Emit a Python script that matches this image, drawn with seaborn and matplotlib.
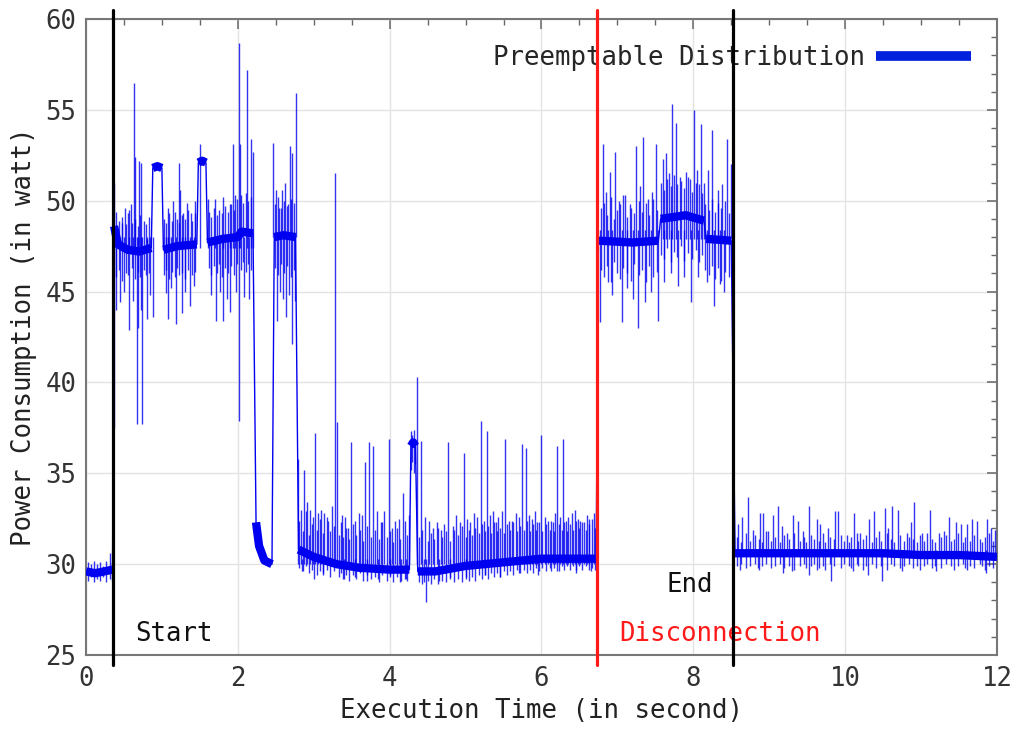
import numpy as np
import pandas as pd
import matplotlib
matplotlib.use('Agg')
import matplotlib.pyplot as plt
import seaborn as sns
from matplotlib.lines import Line2D
from matplotlib.ticker import MultipleLocator

# ---- data ----
# slow baseline of the power trace, split into plateaus (seg id)
base_t = [0.0, 0.12, 0.24, 0.35,
          0.37, 0.42, 0.55, 0.70, 0.86,
          0.88, 0.94, 1.00,
          1.02, 1.20, 1.46,
          1.48, 1.53, 1.58,
          1.60, 1.80, 2.00, 2.05, 2.20,
          2.24, 2.28, 2.35, 2.45,
          2.48, 2.60, 2.76,
          2.80, 3.00, 3.30, 3.60, 4.00, 4.26,
          4.28, 4.31, 4.34,
          4.37, 4.60, 5.00, 5.50, 6.00, 6.72,
          6.75, 7.20, 7.54,
          7.57, 7.90, 8.14,
          8.17, 8.50,
          8.55, 9.00, 9.50, 10.00, 10.50, 11.00, 11.50, 12.00]
base_v = [29.6, 29.5, 29.6, 29.7,
          48.6, 47.6, 47.3, 47.2, 47.4,
          51.8, 51.9, 51.8,
          47.3, 47.5, 47.6,
          52.1, 52.2, 52.1,
          47.7, 47.9, 48.0, 48.3, 48.2,
          32.3, 31.0, 30.2, 30.0,
          48.0, 48.1, 48.0,
          30.8, 30.4, 30.0, 29.8, 29.7, 29.7,
          36.5, 36.7, 36.5,
          29.6, 29.6, 29.9, 30.1, 30.3, 30.3,
          47.8, 47.7, 47.8,
          49.0, 49.2, 48.9,
          47.9, 47.8,
          30.6, 30.6, 30.6, 30.6, 30.6, 30.5, 30.5, 30.4]
base_seg = [0, 0, 0, 0,
            1, 1, 1, 1, 1,
            2, 2, 2,
            3, 3, 3,
            4, 4, 4,
            5, 5, 5, 5, 5,
            6, 6, 6, 6,
            7, 7, 7,
            8, 8, 8, 8, 8, 8,
            9, 9, 9,
            10, 10, 10, 10, 10, 10,
            11, 11, 11,
            12, 12, 12,
            13, 13,
            14, 14, 14, 14, 14, 14, 14, 14]

# big spikes: (time, peak) going up from the plateau, (time, trough) going down
a_up_t = [0.37, 0.47, 0.52, 0.57, 0.59, 0.63, 0.65, 0.70, 0.73, 0.80, 1.08, 1.14, 1.22, 1.24,
          1.28, 1.33, 1.38, 1.44, 1.50, 1.61, 1.70, 1.80, 1.90, 1.93, 1.96, 2.01, 2.03, 2.12,
          2.17, 2.20]
a_up_v = [51.0, 48.8, 49.6, 49.5, 49.8, 56.5, 52.4, 52.2, 52.1, 47.9, 49.6, 50.0, 52.1, 50.6,
          49.3, 49.9, 49.3, 50.0, 53.1, 50.1, 50.1, 50.2, 49.8, 53.1, 50.3, 58.7, 53.1, 57.2,
          53.4, 52.7]
a_dn_t = [0.37, 0.40, 0.45, 0.50, 0.57, 0.62, 0.67, 0.69, 0.72, 0.74, 0.80, 0.84, 0.88, 1.05,
          1.08, 1.12, 1.18, 1.26, 1.30, 1.37, 1.42, 1.65, 1.71, 1.76, 1.80, 1.86, 1.90, 1.98,
          2.01, 2.08, 2.15]
a_dn_v = [37.5, 44.0, 44.4, 45.0, 42.9, 44.5, 37.7, 43.0, 44.0, 37.7, 43.5, 44.8, 43.6, 44.9,
          43.5, 45.2, 43.2, 43.8, 45.0, 44.2, 45.3, 44.8, 43.4, 45.0, 43.4, 44.6, 43.9, 45.0,
          37.9, 44.7, 44.6]

b_up_t = [2.47, 2.50, 2.54, 2.58, 2.62, 2.66, 2.69, 2.72, 2.77]
b_up_v = [53.2, 50.6, 49.6, 50.6, 51.0, 49.8, 53.0, 52.6, 55.9]
b_dn_t = [2.51, 2.55, 2.60, 2.64, 2.68, 2.72, 2.75]
b_dn_v = [43.4, 45.0, 44.6, 43.6, 44.8, 42.1, 44.5]

c_up_t = [2.79, 2.83, 2.87, 2.91, 2.95, 2.99, 3.02, 3.06, 3.09, 3.14,
          3.19, 3.24, 3.28, 3.30, 3.37, 3.41, 3.45, 3.49, 3.54, 3.59,
          3.63, 3.67, 3.73, 3.78, 3.83, 3.88, 3.93, 3.99, 4.03, 4.07,
          4.12, 4.18, 4.25, 4.36, 4.41, 4.47, 4.52, 4.57, 4.62, 4.67,
          4.71, 4.77, 4.83, 4.88, 4.93, 4.98, 5.02, 5.06, 5.11, 5.15,
          5.20, 5.24, 5.28, 5.32, 5.36, 5.40, 5.43, 5.48, 5.52, 5.57,
          5.61, 5.66, 5.70, 5.75, 5.79, 5.83, 5.87, 5.91, 5.94, 5.99,
          6.04, 6.09, 6.15, 6.18, 6.21, 6.25, 6.28, 6.32, 6.35, 6.40,
          6.44, 6.48, 6.51, 6.56, 6.60, 6.63, 6.69]
c_up_v = [35.8, 33.0, 35.2, 33.4, 33.0, 32.6, 37.2, 32.8, 33.0, 32.8,
          32.4, 33.2, 51.5, 37.8, 32.7, 32.6, 32.0, 36.7, 32.4, 32.8,
          32.7, 35.6, 36.7, 36.5, 32.9, 32.3, 32.9, 36.9, 32.0, 32.4,
          32.5, 33.9, 32.7, 40.3, 36.8, 32.6, 32.4, 32.0, 32.3, 31.9,
          32.2, 36.7, 32.1, 32.7, 32.3, 36.1, 32.5, 32.3, 32.8, 32.6,
          37.9, 32.4, 37.3, 32.7, 32.9, 32.3, 32.6, 32.9, 36.9, 32.4,
          32.4, 32.8, 32.6, 36.6, 36.4, 32.7, 32.5, 32.9, 32.3, 37.1,
          32.6, 32.4, 32.3, 32.8, 36.5, 32.6, 36.9, 32.4, 32.6, 32.8,
          33.0, 32.5, 32.4, 32.3, 32.7, 32.5, 32.8]
c_dn_t = [2.85, 3.00, 3.12, 3.40, 3.55, 3.70, 3.85, 4.00, 4.15, 4.22, 4.45,
          4.48, 4.65, 4.80, 5.00, 5.25, 5.45, 5.70, 5.95, 6.20, 6.45, 6.65]
c_dn_v = [29.6, 29.2, 29.4, 29.2, 29.3, 29.1, 29.2, 29.4, 29.1, 29.2, 29.0,
          27.9, 29.1, 29.3, 29.2, 29.4, 29.3, 29.5, 29.4, 29.6, 29.5, 29.6]

d_up_t = [6.81, 6.85, 6.90, 6.97, 7.02, 7.10, 7.16, 7.25, 7.30, 7.34, 7.40, 7.45, 7.51, 7.60,
          7.64, 7.68, 7.72, 7.77, 7.83, 7.90, 7.95, 8.01, 8.05, 8.10, 8.14, 8.20, 8.25, 8.32,
          8.38, 8.45, 8.49]
d_up_v = [53.1, 50.5, 51.6, 52.7, 50.0, 50.3, 49.8, 53.0, 50.8, 53.5, 50.1, 50.5, 53.1, 52.3,
          52.6, 51.5, 55.3, 54.3, 51.3, 51.6, 51.2, 55.0, 51.7, 54.2, 51.0, 51.7, 53.9, 50.6,
          50.9, 53.4, 52.0]
d_dn_t = [6.77, 6.88, 6.93, 7.06, 7.12, 7.20, 7.27, 7.36, 7.44, 7.54, 7.62, 7.70, 7.80, 7.88,
          7.97, 8.06, 8.18, 8.27, 8.35, 8.41]
d_dn_v = [43.3, 45.5, 44.8, 43.3, 45.2, 44.6, 43.0, 44.4, 45.0, 43.4, 45.5, 46.0, 45.3, 45.8,
          44.4, 45.8, 45.5, 44.2, 45.4, 45.0]

e_up_t = [8.59, 8.64, 8.72, 8.79, 8.88, 8.92, 8.99, 9.05, 9.12, 9.17, 9.23, 9.31, 9.38, 9.44,
          9.52, 9.63, 9.67, 9.77, 9.87, 9.91, 10.02, 10.12, 10.20, 10.32, 10.38, 10.44, 10.52,
          10.57, 10.62, 10.69, 10.81, 10.87, 10.91, 11.01, 11.12, 11.23, 11.30, 11.37, 11.46,
          11.52, 11.61, 11.67, 11.74, 11.87, 11.92, 11.98]
e_up_v = [32.2, 32.6, 33.7, 31.9, 32.8, 32.8, 31.8, 32.7, 33.2, 32.1, 31.7, 32.7, 32.4, 31.8,
          33.2, 32.5, 32.2, 32.0, 32.9, 32.9, 31.6, 32.8, 31.7, 32.5, 32.9, 31.8, 33.1,
          32.0, 33.2, 33.0, 31.7, 32.3, 33.4, 31.7, 33.0, 31.7, 31.8, 32.6, 32.3,
          32.2, 32.2, 32.5, 32.4, 32.5, 32.0, 31.9]
e_dn_t = [8.62, 8.85, 9.18, 9.30, 9.52, 9.63, 9.82, 10.10, 10.30, 10.49, 10.75, 11.20, 11.60,
          11.85]
e_dn_v = [29.7, 29.8, 29.5, 29.6, 29.4, 29.7, 29.1, 29.6, 29.4, 29.1, 29.6, 29.6, 29.7, 29.5]

# levels the big spikes start from: floor for peaks, ceiling for troughs
a_floor, a_ceil = 47.4, 48.0
b_floor, b_ceil = 48.0, 48.2
c_floor, c_ceil = 30.0, 30.3
d_floor, d_ceil = 47.9, 48.4
e_floor, e_ceil = 30.5, 30.8

# small noise around the plateaus: (time, low, high) of the fuzz
f0_t = [0.03, 0.07, 0.11, 0.15, 0.19, 0.23, 0.27, 0.31, 0.34]
f0_lo = [29.1, 29.3, 29.0, 29.2, 29.1, 29.3, 29.0, 29.2, 29.1]
f0_hi = [30.1, 30.0, 30.2, 30.0, 30.1, 29.9, 30.2, 30.6, 30.1]

fa_t = [0.40, 0.44, 0.48, 0.53, 0.56, 0.61, 0.64, 0.68, 0.71, 0.76, 0.79, 0.83,
        1.03, 1.06, 1.10, 1.13, 1.17, 1.20, 1.23, 1.27, 1.31, 1.35, 1.40, 1.44,
        1.62, 1.65, 1.68, 1.72, 1.75, 1.79, 1.83, 1.87, 1.91, 1.95, 1.99, 2.04,
        2.07, 2.11, 2.14, 2.18,
        2.49, 2.53, 2.57, 2.61, 2.65, 2.70, 2.74]
fa_lo = [45.8, 46.2, 45.6, 46.0, 45.9, 46.3, 45.7, 46.1, 45.8, 46.2, 45.9, 46.0,
         45.9, 46.2, 45.7, 46.1, 45.8, 46.3, 45.9, 46.0, 45.7, 46.2, 45.9, 46.1,
         46.3, 45.9, 46.4, 46.0, 46.5, 45.8, 46.3, 46.0, 46.4, 45.9, 46.5, 46.2,
         46.6, 46.1, 46.5, 46.2,
         46.3, 45.9, 46.5, 46.0, 46.4, 45.8, 46.2]
fa_hi = [49.4, 48.9, 49.1, 48.7, 49.3, 48.8, 49.0, 48.6, 49.2, 48.9, 48.7, 49.1,
         49.0, 48.8, 49.3, 48.9, 49.4, 49.0, 48.8, 49.2, 49.0, 49.5, 48.9, 49.3,
         49.4, 49.1, 49.6, 49.2, 49.5, 49.3, 49.7, 49.4, 49.8, 49.5, 50.1, 50.3,
         49.9, 50.4, 50.0, 50.2,
         49.8, 50.2, 49.6, 50.0, 49.7, 50.1, 49.9]

fc_t = [2.81, 2.86, 2.90, 2.94, 2.98, 3.04, 3.08, 3.12, 3.17, 3.22, 3.27, 3.33, 3.36, 3.39,
        3.43, 3.47, 3.52, 3.56, 3.61, 3.65, 3.70, 3.75, 3.81, 3.86, 3.90, 3.96, 4.01, 4.05,
        4.10, 4.14, 4.20, 4.23, 4.28, 4.30, 4.32, 4.34, 4.39, 4.43, 4.50, 4.55, 4.59, 4.64,
        4.69, 4.74, 4.80, 4.85, 4.90, 4.95, 5.00, 5.04, 5.09, 5.13, 5.18, 5.22, 5.26, 5.30,
        5.34, 5.38, 5.42, 5.46, 5.50, 5.55, 5.59, 5.63, 5.68, 5.72, 5.77, 5.81, 5.85, 5.89,
        5.93, 5.97, 6.01, 6.06, 6.11, 6.13, 6.17, 6.23, 6.27, 6.30, 6.34, 6.38, 6.42, 6.46,
        6.50, 6.54, 6.58, 6.62, 6.66, 6.70]
fc_lo = [29.8, 29.6, 29.9, 29.5, 29.7, 29.4, 29.6, 29.5, 29.7, 29.3, 29.6, 29.3, 29.5, 29.2,
         29.4, 29.1, 29.4, 29.2, 29.5, 29.1, 29.4, 29.2, 29.3, 29.0, 29.4, 29.1, 29.3, 29.0,
         29.3, 29.0, 29.2, 29.1, 35.2, 35.6, 35.0, 35.5, 29.0, 28.9, 29.1, 28.9, 29.2, 28.9,
         29.1, 29.0, 29.2, 29.0, 29.2, 29.0, 29.3, 29.1, 29.3, 29.1, 29.4, 29.2, 29.4, 29.2,
         29.5, 29.3, 29.5, 29.3, 29.6, 29.4, 29.6, 29.4, 29.7, 29.5, 29.7, 29.5, 29.7, 29.5,
         29.8, 29.6, 29.8, 29.6, 29.8, 29.6, 29.8, 29.6, 29.9, 29.7, 29.9, 29.7, 29.9, 29.7,
         29.9, 29.7, 29.9, 29.7, 29.8, 29.7]
fc_hi = [32.4, 31.8, 32.9, 31.6, 32.2, 31.9, 32.5, 31.7, 32.6, 31.8, 32.1, 31.6, 32.3, 31.5,
         32.0, 31.4, 32.2, 31.6, 31.9, 31.3, 32.1, 31.5, 31.9, 31.4, 32.3, 31.5, 31.8, 31.2,
         32.0, 31.4, 32.4, 31.6, 37.3, 37.1, 37.4, 36.9, 31.5, 31.9, 31.3, 31.7, 31.4, 32.0,
         31.5, 31.8, 31.3, 31.9, 31.6, 32.1, 31.5, 31.9, 31.6, 32.0, 31.7, 32.2, 31.8, 32.1,
         31.7, 32.3, 31.8, 32.0, 31.7, 32.2, 31.9, 32.3, 31.8, 32.1, 31.9, 32.4, 31.8, 32.2,
         31.9, 32.3, 31.8, 32.2, 31.9, 32.4, 31.8, 32.2, 31.9, 32.3, 31.8, 32.2, 31.9, 32.4,
         32.0, 32.3, 31.9, 32.2, 32.5, 32.0]

fd_t = [6.78, 6.82, 6.86, 6.91, 6.95, 6.99, 7.04, 7.08, 7.13, 7.18, 7.22, 7.28, 7.32, 7.38,
        7.42, 7.47, 7.52, 7.58, 7.62, 7.66, 7.70, 7.75, 7.79, 7.84, 7.88, 7.93, 7.98, 8.03,
        8.08, 8.12, 8.16, 8.21, 8.24, 8.29, 8.33, 8.37, 8.42, 8.47]
fd_lo = [46.2, 45.8, 46.4, 45.5, 46.6, 46.0, 45.7, 46.3, 46.0, 45.6, 46.5, 45.9, 46.2, 45.5,
         46.4, 45.8, 46.1, 47.0, 46.8, 47.4, 46.6, 47.2, 46.9, 47.5, 46.7, 47.1, 46.8, 47.3,
         46.6, 47.0, 46.2, 45.9, 46.4, 45.7, 46.3, 45.6, 46.1, 45.8]
fd_hi = [49.6, 49.9, 49.2, 50.2, 49.0, 49.5, 49.8, 50.3, 49.1, 49.6, 49.3, 50.0, 49.4, 49.9,
         49.2, 50.1, 49.5, 51.0, 50.6, 51.2, 50.8, 51.4, 50.9, 51.1, 50.7, 51.3, 50.5, 51.0,
         50.9, 50.4, 49.8, 49.5, 50.1, 49.4, 49.9, 49.6, 50.0, 49.3]

fe_t = [8.57, 8.63, 8.69, 8.75, 8.81, 8.86, 8.91, 8.96, 9.02, 9.08,
        9.14, 9.20, 9.26, 9.33, 9.40, 9.46, 9.49, 9.55, 9.59, 9.65,
        9.71, 9.74, 9.80, 9.85, 9.94, 9.98, 10.05, 10.08, 10.15, 10.17,
        10.23, 10.27, 10.35, 10.41, 10.47, 10.55, 10.60, 10.65, 10.72, 10.78,
        10.84, 10.89, 10.95, 10.98, 11.04, 11.08, 11.15, 11.18, 11.26, 11.33,
        11.40, 11.43, 11.49, 11.55, 11.58, 11.64, 11.70, 11.77, 11.80, 11.84,
        11.90, 11.95]
fe_lo = [29.9, 30.0, 29.8, 29.9, 30.0, 29.7, 29.9, 30.0, 29.8, 29.9,
         30.0, 29.8, 29.9, 29.7, 29.9, 30.0, 29.8, 29.9, 30.0, 29.8,
         29.9, 29.7, 30.0, 29.9, 29.8, 30.0, 29.9, 29.8, 30.0, 29.9,
         29.7, 29.9, 30.0, 29.8, 29.9, 29.7, 30.0, 29.9, 29.8, 29.9,
         30.0, 29.8, 29.9, 29.7, 29.9, 30.0, 29.8, 29.9, 29.8, 30.0,
         29.9, 29.7, 29.9, 30.0, 29.8, 29.9, 29.8, 30.0, 29.9, 29.7,
         29.9, 29.8]
fe_hi = [31.5, 31.2, 31.7, 31.3, 31.6, 31.4, 31.2, 31.8, 31.3, 31.5,
         31.2, 31.6, 31.4, 31.7, 31.3, 31.5, 31.2, 31.6, 31.4, 31.3,
         31.7, 31.2, 31.5, 31.4, 31.6, 31.3, 31.2, 31.5, 31.7, 31.3,
         31.4, 31.6, 31.2, 31.5, 31.3, 31.7, 31.4, 31.2, 31.6, 31.3,
         31.5, 31.4, 31.2, 31.6, 31.3, 31.7, 31.4, 31.2, 31.5, 31.6,
         31.3, 31.4, 31.7, 31.2, 31.5, 31.3, 31.6, 31.4, 31.2, 31.5,
         31.7, 31.3]

t_start, t_disconnect, t_end = 0.356, 6.73, 8.52

# ---- style ----
sns.set_theme(style='white')
plt.rcParams['font.family'] = ['DejaVu Sans Mono']
FS = 18.5
TRACE = '#0000f0'

fig = plt.figure(figsize=(10.14, 7.33), dpi=100)
ax = fig.add_axes([0.0848, 0.1064, 0.8984, 0.8677])

df = pd.DataFrame({'t': base_t, 'v': base_v, 'seg': base_seg})
# thin line joining everything (the jumps), thick band for the noisy plateaus
sns.lineplot(data=df, x='t', y='v', estimator=None, sort=False, color=TRACE,
             lw=1.0, ax=ax, zorder=3)
sns.lineplot(data=df, x='t', y='v', units='seg', estimator=None, sort=False,
             color=TRACE, lw=6.0, ax=ax, zorder=3, solid_capstyle='butt')

for ts, lo, hi in [(f0_t, f0_lo, f0_hi), (fa_t, fa_lo, fa_hi), (fc_t, fc_lo, fc_hi),
                   (fd_t, fd_lo, fd_hi), (fe_t, fe_lo, fe_hi)]:
    ax.vlines(ts, lo, hi, color=TRACE, lw=1.0, alpha=0.8, zorder=3)

spikes = [(a_up_t, a_floor, a_up_v), (a_dn_t, a_ceil, a_dn_v),
          (b_up_t, b_floor, b_up_v), (b_dn_t, b_ceil, b_dn_v),
          (c_up_t, c_floor, c_up_v), (c_dn_t, c_ceil, c_dn_v),
          (d_up_t, d_floor, d_up_v), (d_dn_t, d_ceil, d_dn_v),
          (e_up_t, e_floor, e_up_v), (e_dn_t, e_ceil, e_dn_v)]
for ts, lvl, vs in spikes:
    ax.vlines(ts, lvl, vs, color=TRACE, lw=1.0, alpha=0.8, zorder=3)

# event markers, drawn a bit past the frame like gnuplot arrows
for tx, col in [(t_start, 'black'), (t_disconnect, '#ff1a1a'), (t_end, 'black')]:
    ax.plot([tx, tx], [24.45, 60.5], color=col, lw=2.3, clip_on=False, zorder=6)

ax.text(0.646, 25.77, 'Start', fontsize=FS, color='#111111', ha='left', va='baseline')
ax.text(7.65, 28.46, 'End', fontsize=FS, color='#111111', ha='left', va='baseline')
ax.text(7.02, 25.77, 'Disconnection', fontsize=FS, color='#ff1a1a', ha='left', va='baseline')

ax.set_xlim(0, 12)
ax.set_ylim(25, 60)
ax.xaxis.set_major_locator(MultipleLocator(2))
ax.xaxis.set_minor_locator(MultipleLocator(0.5))
ax.yaxis.set_major_locator(MultipleLocator(5))
ax.yaxis.set_minor_locator(MultipleLocator(1))
ax.grid(True, which='major', color='#e3e3e3', lw=1.0)
ax.set_axisbelow(True)
ax.tick_params(which='both', direction='in', top=True, right=True, color='#666666',
               labelsize=FS, labelcolor='#333333')
ax.tick_params(which='major', length=7.5, width=1.1)
ax.tick_params(which='minor', length=4, width=1.0)
ax.tick_params(axis='x', pad=8)
ax.tick_params(axis='y', pad=7)
for sp in ax.spines.values():
    sp.set_color('#777777')
    sp.set_linewidth(1.5)

ax.set_xlabel('Execution Time (in second)', fontsize=FS, color='#222222', labelpad=4)
ax.set_ylabel('Power Consumption (in watt)', fontsize=FS, color='#222222', labelpad=6)

handle = Line2D([0], [0], color='#0022dd', lw=7, solid_capstyle='butt')
ax.legend([handle], ['Preemptable Distribution'], loc='upper right', markerfirst=False,
          frameon=False, fontsize=FS, handlelength=3.7, handletextpad=0.45,
          borderaxespad=0.5, borderpad=0.5)

fig.savefig('out.png', dpi=100)
